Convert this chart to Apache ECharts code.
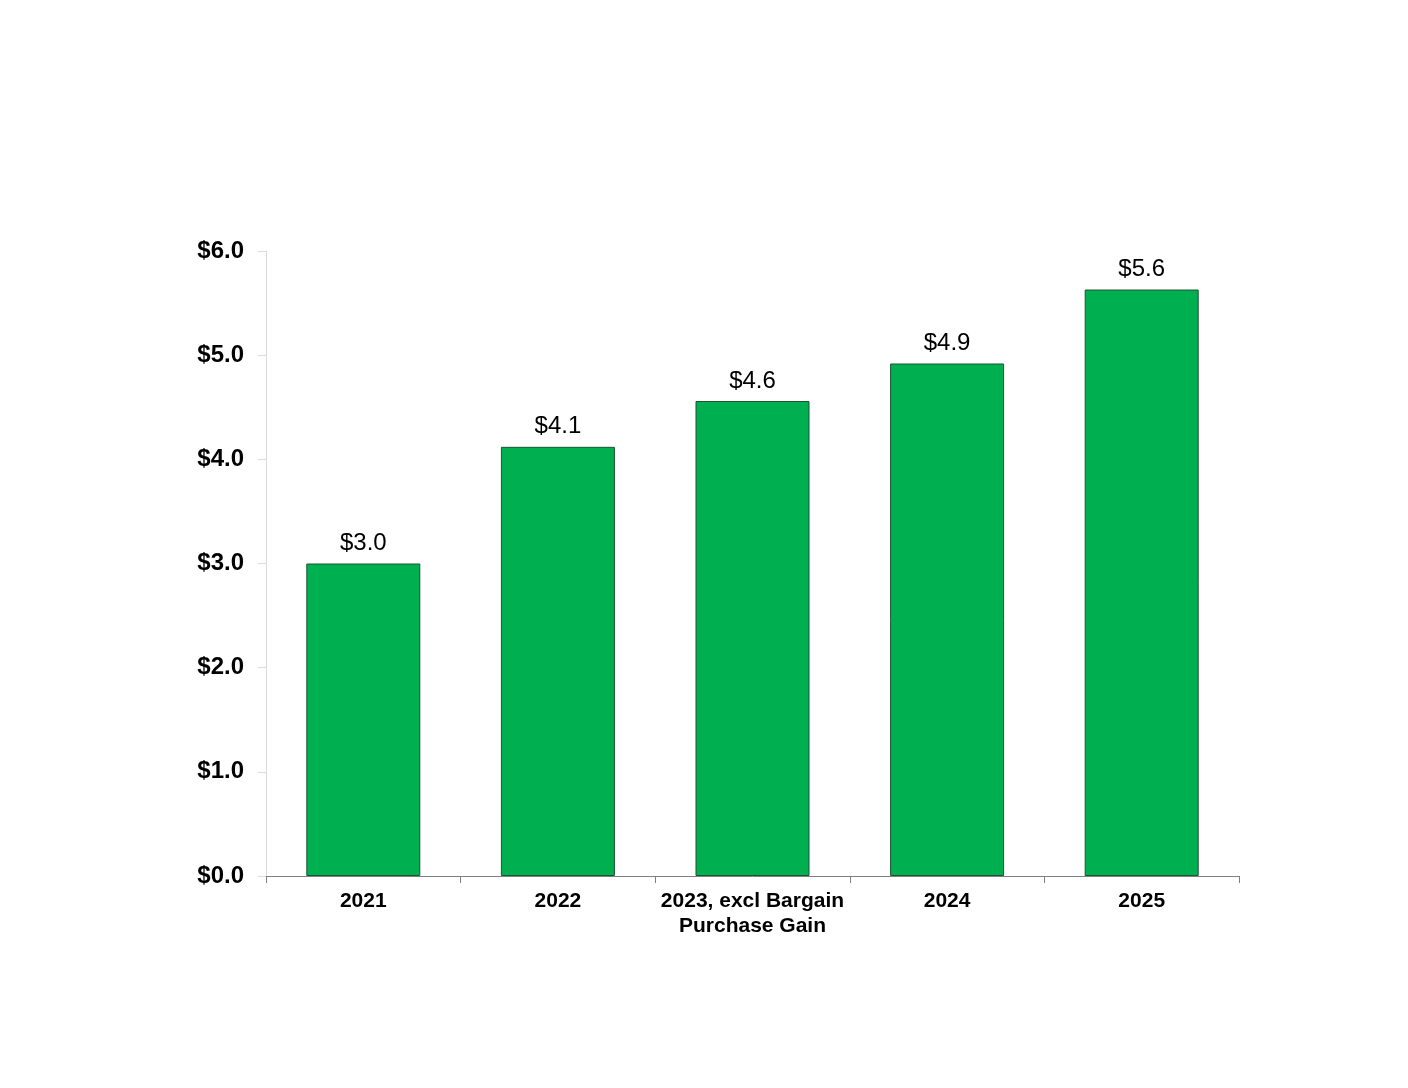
<!DOCTYPE html>
<html>
<head>
<meta charset="utf-8">
<script src="https://cdn.jsdelivr.net/npm/echarts@6/dist/echarts.min.js"></script>
<style>html,body{margin:0;padding:0;background:#fff}#c{width:1408px;height:1088px}</style>
</head>
<body>
<div id="c"></div>
<script>
var categories = ['2021', '2022', '2023, excl Bargain\nPurchase Gain', '2024', '2025'];
var values = [3.0, 4.12, 4.56, 4.92, 5.63];
var yTicks = [0, 1, 2, 3, 4, 5, 6];

var chart = echarts.init(document.getElementById('c'));
chart.setOption({
  animation: false,
  backgroundColor: '#ffffff',
  grid: { left: 266, right: 169, top: 251, bottom: 212, containLabel: false },
  xAxis: {
    type: 'category',
    data: categories,
    axisLine: { show: true, lineStyle: { color: '#808080', width: 1 } },
    axisTick: { show: true, length: 7, lineStyle: { color: '#808080' }, alignWithLabel: false },
    axisLabel: {
      color: '#000', fontFamily: 'Liberation Sans, Arial, sans-serif', fontWeight: 'bold',
      fontSize: 21, lineHeight: 25, margin: 13, interval: 0
    }
  },
  yAxis: {
    type: 'value',
    min: yTicks[0], max: yTicks[yTicks.length - 1], interval: 1,
    axisLine: { show: true, lineStyle: { color: '#d9d9d9', width: 1 } },
    axisTick: { show: true, length: 8, lineStyle: { color: '#d9d9d9' } },
    splitLine: { show: false },
    axisLabel: {
      color: '#000', fontFamily: 'Liberation Sans, Arial, sans-serif', fontWeight: 'bold',
      fontSize: 24, margin: 22,
      formatter: function (v) { return '$' + v.toFixed(1); }
    }
  },
  series: [{
    type: 'bar',
    data: values,
    barWidth: 114,
    itemStyle: { color: '#00b050', borderColor: '#1d5232', borderWidth: 1 },
    label: {
      show: true, position: 'top', distance: 8,
      color: '#000', fontFamily: 'Liberation Sans, Arial, sans-serif', fontSize: 24,
      formatter: function (p) { return '$' + p.value.toFixed(1); }
    }
  }]
});
</script>
</body>
</html>
